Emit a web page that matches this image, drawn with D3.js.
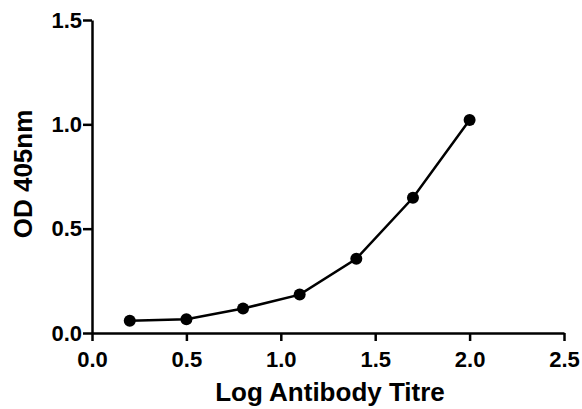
<!DOCTYPE html>
<html lang="en">
<head>
    <meta charset="UTF-8">
    <title>OD 405nm vs Log Antibody Titre</title>
    <script src="https://d3js.org/d3.v7.min.js"></script>
    <style>
        body {
            margin: 0;
            background: white;
        }
        svg {
            display: block;
            font-family: Arial, "Liberation Sans", sans-serif;
        }
        .axis path, .axis line {
            stroke: black;
            stroke-width: 2.5;
        }
        .axis text {
            font-size: 22px;
            font-weight: bold;
            fill: black;
        }
        .title {
            font-weight: bold;
            fill: black;
        }
    </style>
</head>
<body>
    <svg id="chart"></svg>

    <script>
        // data
        const logTitre = [0.2, 0.5, 0.8, 1.1, 1.4, 1.7, 2.0];
        const od405 = [0.059, 0.066, 0.117, 0.184, 0.356, 0.648, 1.021];
        const xTicks = [0, 0.5, 1.0, 1.5, 2.0, 2.5];
        const yTicks = [0, 0.5, 1.0, 1.5];

        const width = 582;
        const height = 409;
        const margin = {top: 20, right: 18, bottom: 76, left: 92};

        const svg = d3.select("#chart")
                      .attr("width", width)
                      .attr("height", height);

        const x = d3.scaleLinear()
                    .domain([0, 2.5])
                    .range([margin.left, width - margin.right]);

        const y = d3.scaleLinear()
                    .domain([0, 1.5])
                    .range([height - margin.bottom, margin.top]);

        const points = logTitre.map((t, i) => ({x: t, y: od405[i]}));

        // axes
        svg.append("g")
           .attr("class", "axis")
           .attr("transform", `translate(0, ${y(0)})`)
           .call(d3.axisBottom(x).tickValues(xTicks).tickFormat(d3.format(".1f"))
                   .tickSize(8).tickSizeOuter(0).tickPadding(10));

        svg.append("g")
           .attr("class", "axis")
           .attr("transform", `translate(${x(0)}, 0)`)
           .call(d3.axisLeft(y).tickValues(yTicks).tickFormat(d3.format(".1f"))
                   .tickSize(9).tickSizeOuter(0).tickPadding(1));

        // line + dots
        const line = d3.line()
                       .x(d => x(d.x))
                       .y(d => y(d.y));

        svg.append("path")
           .datum(points)
           .attr("d", line)
           .attr("fill", "none")
           .attr("stroke", "black")
           .attr("stroke-width", 2.5);

        svg.selectAll(".dot")
           .data(points)
           .enter()
           .append("circle")
           .attr("class", "dot")
           .attr("cx", d => x(d.x))
           .attr("cy", d => y(d.y))
           .attr("r", 6)
           .attr("fill", "black");

        // axis titles
        svg.append("text")
           .attr("class", "title")
           .attr("x", 330)
           .attr("y", 401)
           .attr("text-anchor", "middle")
           .style("font-size", "26px")
           .text("Log Antibody Titre");

        svg.append("text")
           .attr("class", "title")
           .attr("transform", `translate(32, 174) rotate(-90)`)
           .attr("text-anchor", "middle")
           .style("font-size", "26px")
           .text("OD 405nm");
    </script>
</body>
</html>
